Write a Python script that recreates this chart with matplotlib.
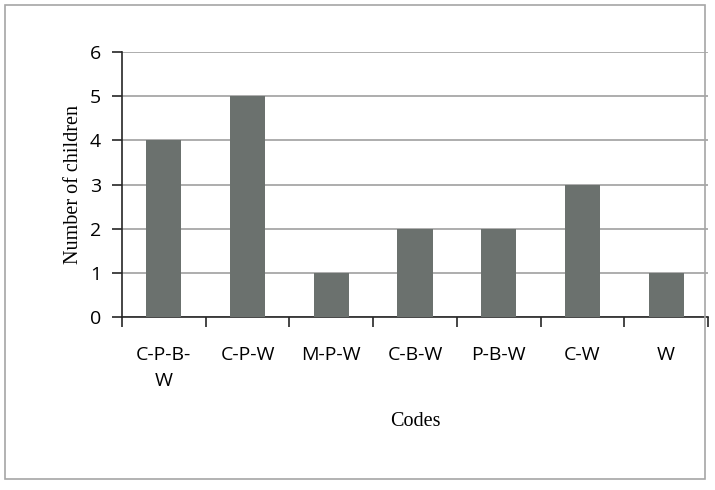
import matplotlib
matplotlib.use("Agg")
import matplotlib.pyplot as plt
from matplotlib.patches import Rectangle

codes = ["C-P-B-\nW", "C-P-W", "M-P-W", "C-B-W", "P-B-W", "C-W", "W"]
children = [4, 5, 1, 2, 2, 3, 1]
y_ticks = [0, 1, 2, 3, 4, 5, 6]

fig = plt.figure(figsize=(7.15, 4.9), dpi=100)
# outer chart border
fig.patches.append(Rectangle((5 / 715, 11 / 490), 700 / 715, 474 / 490,
                             transform=fig.transFigure, fill=False,
                             edgecolor="#a6a6a6", linewidth=1.2, zorder=0))

ax = fig.add_axes([122 / 715, 1 - 317 / 490, 586 / 715, 265 / 490])
ax.patch.set_alpha(0)
x = list(range(len(codes)))
ax.bar(x, children, width=0.42, color="#6b716e", zorder=3)

ax.set_xlim(-0.5, len(codes) - 0.5)
ax.set_ylim(0, 6)
ax.set_yticks(y_ticks)
ax.yaxis.grid(True, color="#a0a0a0", linewidth=1.2, zorder=0)
ax.set_axisbelow(True)

for s in ["top", "right"]:
    ax.spines[s].set_visible(False)
for s in ["left", "bottom"]:
    ax.spines[s].set_color("#262626")
    ax.spines[s].set_linewidth(1.2)

ax.set_xticks([i - 0.5 for i in range(len(codes) + 1)])
ax.set_xticklabels([])
ax.set_xticks(x, minor=True)
ax.set_xticklabels(codes, minor=True, fontsize=14, family="Open Sans",
                   linespacing=1.55)
ax.tick_params(axis="x", which="major", length=7, width=1.2, color="#262626")
ax.tick_params(axis="x", which="minor", length=0, pad=21)
ax.tick_params(axis="y", length=7, width=1.2, color="#262626", pad=8)
for lab in ax.get_yticklabels():
    lab.set_fontsize(14)
    lab.set_family("Open Sans")

ax.set_ylabel("Number of children", family="Liberation Serif", fontsize=14.5,
              labelpad=5)
ax.set_xlabel("Codes", family="Liberation Serif", fontsize=14.5, labelpad=16)

fig.savefig("out.png", dpi=100)
